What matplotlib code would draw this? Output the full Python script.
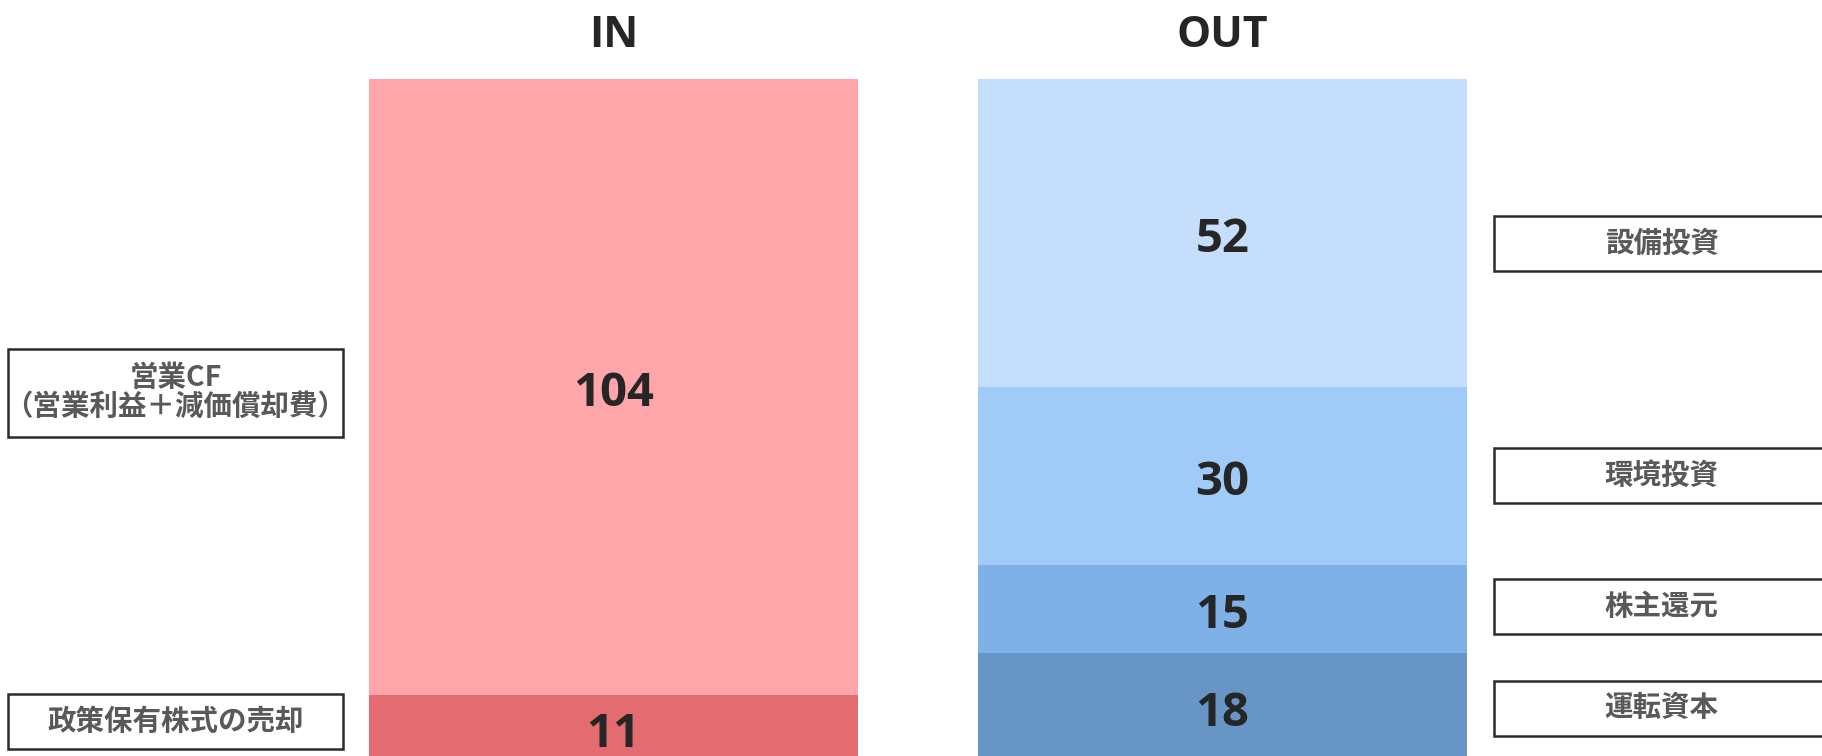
import matplotlib
matplotlib.use("Agg")
import matplotlib.pyplot as plt
from matplotlib.patches import Rectangle

plt.rcParams['font.family'] = ['Noto Sans CJK JP', 'DejaVu Sans']

# ---- data ----
columns = ["IN", "OUT"]
in_labels = ["政策保有株式の売却", "営業CF\n（営業利益＋減価償却費）"]
in_values = [11, 104]
in_colors = ["#E26C6F", "#FFA6AA"]
out_labels = ["運転資本", "株主還元", "環境投資", "設備投資"]
out_values = [18, 15, 30, 52]
out_colors = ["#6795C6", "#7DB1E8", "#A0CBF9", "#C5DEFB"]

# label box vertical nudges (data units), style only
in_nudge = [1.0, -1.0]
out_nudge = [-0.3, 0.4, 0.0, -1.8]

W, H = 1822, 756
fig = plt.figure(figsize=(W / 100, H / 100), dpi=100)
ax = fig.add_axes([0, 0, 1, 1])
ax.set_xlim(-1.007, 1.984)
ax.set_ylim(0.68, 128.3)
ax.axis('off')

bar_w = 0.803
num_font = dict(family=['Open Sans', 'DejaVu Sans'], fontweight='bold',
                color='#262626', ha='center')

def stack(xpos, values, colors):
    bottom = 0
    centers = []
    for v, c in zip(values, colors):
        ax.bar(xpos, v, bottom=bottom, width=bar_w, color=c, edgecolor='none')
        ax.annotate(f"{v}", (xpos, bottom + v / 2), xytext=(0, -5),
                    textcoords='offset points', fontsize=34, va='center', **num_font)
        centers.append(bottom + v / 2)
        bottom += v
    return centers

in_centers = stack(0, in_values, in_colors)
out_centers = stack(1, out_values, out_colors)

for i, name in enumerate(columns):
    ax.text(i, 0.953, name, transform=ax.get_xaxis_transform(), fontsize=31,
            va='center', **num_font)

def label_box(x0, x1, yc, text):
    lines = text.count("\n") + 1
    h = 9.3 if lines == 1 else 14.9
    rect = Rectangle((x0, yc - h / 2), x1 - x0, h, facecolor='white',
                     edgecolor='#2b2b2b', linewidth=1.8, zorder=3, clip_on=False)
    ax.add_patch(rect)
    ax.text((x0 + x1) / 2, yc, text, ha='center', va='center', fontsize=20.5,
            color='#595959', fontweight='bold', linespacing=1.05, zorder=4)

for lab, yc, d in zip(in_labels, in_centers, in_nudge):
    label_box(-0.994, -0.444, yc + d, lab)
for lab, yc, d in zip(out_labels, out_centers, out_nudge):
    label_box(1.446, 1.996, yc + d, lab)

fig.savefig("out.png", dpi=100)
